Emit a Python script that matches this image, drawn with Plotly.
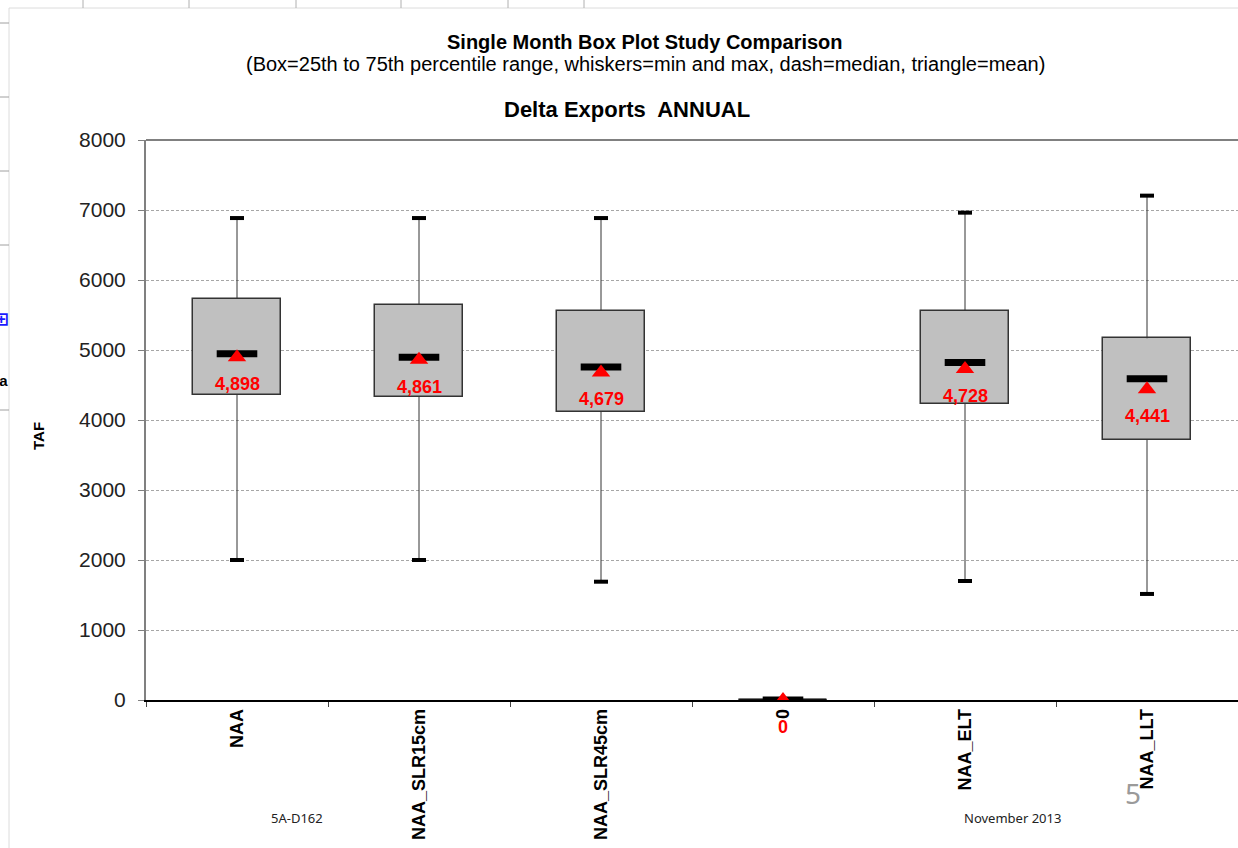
import plotly.graph_objects as go

# ---- data (TAF) ----
categories = ["NAA", "NAA_SLR15cm", "NAA_SLR45cm", "0", "NAA_ELT", "NAA_LLT"]
mins    = [2000, 2000, 1690, 0, 1700, 1515]
q1s     = [4357, 4330, 4115, 0, 4230, 3715]
medians = [4945, 4895, 4757, 0, 4820, 4590]
q3s     = [5730, 5647, 5557, 0, 5562, 5167]
maxs    = [6885, 6885, 6885, 0, 6962, 7205]
means   = [4898, 4861, 4679, 0, 4728, 4441]
mean_labels = ["4,898", "4,861", "4,679", "0", "4,728", "4,441"]

FONT = "Liberation Sans, Arial, sans-serif"
W, H = 1238, 848
ML, MR, MT, MB = 146, 0, 140, 148
PW, PH = W - ML - MR, H - MT - MB

def px_x(px):
    return (px - ML) / PW

def px_y(py):
    return (H - MB - py) / PH

xs = list(range(len(categories)))
BOXW = 0.48

fig = go.Figure()

# boxes (25th-75th)
fig.add_trace(go.Bar(
    x=xs, y=[b - a for a, b in zip(q1s, q3s)], base=q1s, width=BOXW,
    marker=dict(color="#c0c0c0", line=dict(color="#333333", width=1.5)),
    hoverinfo="skip", showlegend=False))

# flat boxes (q1 == q3)
for i, (a, b) in enumerate(zip(q1s, q3s)):
    if a == b:
        fig.add_trace(go.Scatter(x=[i - BOXW / 2, i + BOXW / 2], y=[a, a], mode="lines",
                                 line=dict(color="#111111", width=2.5),
                                 hoverinfo="skip", showlegend=False))

# whiskers
wx, wy = [], []
for i in xs:
    wx += [i, i, None, i, i, None]
    wy += [q3s[i], maxs[i], None, q1s[i], mins[i], None]
fig.add_trace(go.Scatter(x=wx, y=wy, mode="lines", line=dict(color="#333333", width=1),
                         hoverinfo="skip", showlegend=False))

# whisker caps
fig.add_trace(go.Scatter(x=xs + xs, y=mins + maxs, mode="markers",
                         marker=dict(symbol="line-ew", size=10, line=dict(color="black", width=4)),
                         hoverinfo="skip", showlegend=False))

# median dash
fig.add_trace(go.Scatter(x=xs, y=medians, mode="markers",
                         marker=dict(symbol="line-ew", size=29, line=dict(color="black", width=7)),
                         hoverinfo="skip", showlegend=False))

# mean triangle
fig.add_trace(go.Scatter(x=xs, y=means, mode="markers",
                         marker=dict(symbol="triangle-up", size=16, color="#ff0000",
                                     line=dict(width=0)),
                         hoverinfo="skip", showlegend=False))

annotations = []
for i in xs:
    annotations.append(dict(x=i, y=means[i], xref="x", yref="y", text="<b>%s</b>" % mean_labels[i],
                            showarrow=False, yshift=-27, xanchor="center", yanchor="middle",
                            font=dict(family=FONT, size=18, color="#ff0000")))

def txt(px, py, text, size, color="black", family=FONT, xanchor="center", angle=0):
    return dict(x=px_x(px), y=px_y(py), xref="paper", yref="paper", showarrow=False,
                xanchor=xanchor, yanchor="middle", text=text, textangle=angle,
                font=dict(family=family, size=size, color=color))

SLIDE = "Noto Sans, sans-serif"
annotations += [
    txt(645, 42, "<b>Single Month Box Plot Study Comparison</b>", 20),
    txt(645, 64, "(Box=25th to 75th percentile range, whiskers=min and max, dash=median, triangle=mean)", 20),
    txt(627, 110, "<b>Delta Exports  ANNUAL</b>", 22),
    txt(38, 436, "<b>TAF</b>", 15, angle=-90),
    txt(297, 818, "5A-D162", 13, color="#222222", family=SLIDE),
    txt(1012, 818, "November 2013", 13, color="#222222", family=SLIDE),
    txt(1133, 793, "5", 28, color="#9a9a9a", family=SLIDE),
    txt(10, 380, "<b>pa</b>", 15, xanchor="right"),
    txt(11, 318, "<b>⊞</b>", 18, color="#1a1aff", family="DejaVu Sans", xanchor="right"),
]

shapes = []
# slide / sheet frame lines
shapes.append(dict(type="line", xref="paper", yref="paper", x0=px_x(9), x1=px_x(9),
                   y0=px_y(8), y1=px_y(848), line=dict(color="#dcdcdc", width=1)))
shapes.append(dict(type="line", xref="paper", yref="paper", x0=px_x(9), x1=px_x(1238),
                   y0=px_y(8), y1=px_y(8), line=dict(color="#dcdcdc", width=1)))
for vx in [83, 189, 296, 401, 508, 584]:
    shapes.append(dict(type="line", xref="paper", yref="paper", x0=px_x(vx), x1=px_x(vx),
                       y0=px_y(0), y1=px_y(8), line=dict(color="#b0b0b0", width=1)))
for hy in [23, 97, 171, 245, 410]:
    shapes.append(dict(type="line", xref="paper", yref="paper", x0=px_x(0), x1=px_x(9),
                       y0=px_y(hy), y1=px_y(hy), line=dict(color="#a0a0a0", width=1)))
# plot area top border
shapes.append(dict(type="line", xref="paper", yref="paper", x0=0, x1=1, y0=1, y1=1,
                   line=dict(color="#808080", width=2)))

fig.update_layout(
    width=W, height=H,
    margin=dict(l=ML, r=MR, t=MT, b=MB),
    paper_bgcolor="white", plot_bgcolor="white",
    showlegend=False, bargap=0,
    annotations=annotations, shapes=shapes,
    font=dict(family=FONT, color="black"),
    xaxis=dict(range=[-0.5, 5.5], tickmode="array", tickvals=xs,
               ticktext=["<b>%s</b>" % c for c in categories],
               tickangle=-90, ticks="", showgrid=False, zeroline=False,
               showline=True, linecolor="black", linewidth=1.5,
               tickfont=dict(family=FONT, size=18, color="black"),
               minor=dict(tick0=0.5, dtick=1, ticks="outside", ticklen=5,
                          tickcolor="#444444", showgrid=False)),
    yaxis=dict(range=[0, 8000], dtick=1000, tick0=0, ticks="outside", ticklen=6,
               tickcolor="#808080", showline=True, linecolor="#808080", linewidth=2,
               zeroline=False, showgrid=True, gridcolor="#a6a6a6", gridwidth=1,
               griddash="3px,2px", ticklabelstandoff=8,
               tickfont=dict(family=FONT, size=21, color="#222222")),
)

fig.write_html("out.html", config={"displayModeBar": False},
               post_script="document.body.style.margin='0';")
